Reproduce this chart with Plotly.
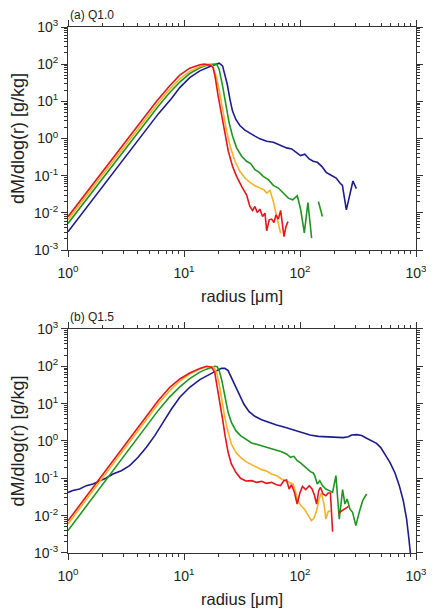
import plotly.graph_objects as go

# ---------------- data: panel (a) Q1.0 ----------------
red_a_r = [1, 1.5, 2, 3, 4, 5, 5.8, 7.5, 9.2, 11.2, 13.7, 15.0, 16.9, 17.8, 18.5, 19.7, 21.1, 22.5, 24.1, 26.2,
           28.4, 31.4, 34.6, 37.0, 39.0, 40.9, 42.8, 45.1, 47.6, 49.9, 51.6, 54.3, 56.9, 59.7, 62.1, 65.0, 68.1,
           72.8, 75.7, 78.8]
red_a_v = [0.0079, 0.0413, 0.133, 0.695, 2.24, 5.56, 10.0, 25.9, 50.5, 78, 96, 100, 94, 81, 48, 13.9, 4.0, 1.28,
           0.455, 0.179, 0.096, 0.0515, 0.0306, 0.0148, 0.0116, 0.0148, 0.0102, 0.0126, 0.0080, 0.0098, 0.0033,
           0.0065, 0.0068, 0.0055, 0.0088, 0.0068, 0.0116, 0.0023, 0.0043, 0.0058]

orange_a_r = [1, 1.5, 2, 3, 4, 5, 6, 7.5, 9.2, 11.2, 13.7, 15.6, 16.5, 17.6, 19.1, 20.4, 21.8, 23.3, 25.2, 27.5,
              30.3, 33.5, 37.0, 40.9, 45.1, 48.9, 51.6, 55.1, 58.9, 62.1, 65.0, 68.1]
orange_a_v = [0.0065, 0.034, 0.109, 0.57, 1.83, 4.55, 9.2, 21, 40, 64, 87, 97, 100, 90, 43.6, 15.5, 4.45, 1.58,
              0.56, 0.244, 0.131, 0.0865, 0.066, 0.0537, 0.0465, 0.0419, 0.034, 0.0402, 0.0202, 0.0098, 0.0053,
              0.0028]

green_a_r = [1, 1.5, 2, 3, 4, 5, 6, 7.5, 9.2, 11.2, 13.7, 15.6, 17.3, 19.1, 20.1, 21.5, 23.0, 24.5, 26.2, 28.4,
             31.4, 34.6, 37.5, 40.9, 44.5, 48.2, 53.3, 58.9, 65.0, 71.8, 79.3, 86.4, 94.8, 101.4, 109, 117, 126,
             None, 144, 156]
green_a_v = [0.0052, 0.0272, 0.088, 0.46, 1.48, 3.68, 7.4, 17, 33, 56, 80, 93, 99, 100, 73, 26, 7.5, 2.65, 1.16,
             0.56, 0.333, 0.244, 0.211, 0.145, 0.123, 0.096, 0.078, 0.0548, 0.0465, 0.034, 0.0249, 0.0224, 0.0288,
             0.0121, 0.0029, 0.019, 0.0021, None, 0.0202, 0.008]

blue_a_r = [1, 1.5, 2, 3, 4, 5, 6, 7.8, 9.2, 11.2, 13.7, 16.7, 19.1, 20.1, 21.5, 22.5, 23.6, 24.9, 26.2, 28.0,
            30.3, 33.5, 37.0, 40.9, 45.1, 51.6, 58.9, 67.2, 76.7, 84.8, 93.6, 101, 110, 120, 130, 141, 154, 168,
            184, 205, 221, 232, 251, 277, 286, 306]
blue_a_v = [0.0031, 0.0163, 0.0525, 0.274, 0.88, 2.19, 4.6, 12, 23.4, 43.6, 66, 86.5, 100, 106, 90, 53.7, 28.8,
            11.3, 5.48, 3.26, 2.24, 1.68, 1.36, 1.16, 0.98, 0.847, 0.796, 0.674, 0.56, 0.526, 0.427, 0.347, 0.378,
            0.282, 0.244, 0.229, 0.179, 0.123, 0.104, 0.0865, 0.0634, 0.055, 0.012, 0.05, 0.072, 0.045]

# ---------------- data: panel (b) Q1.5 ----------------
red_b_r = [1, 1.5, 2, 3, 4, 5, 6, 7.54, 9.2, 11.2, 13.7, 15.6, 17.3, 18.4, 19.3, 20.4, 21.5, 22.6, 24.0, 25.6,
           28.0, 30.7, 34.1, 38.2, 42.2, 46.6, 51.4, 56.8, 62.8, 67.9, 72.6, 76.5, 80.7, 84.5, 89.1, 94.6, 99.7,
           105, 112, 120, 127, 133, 139, 145, 150, 158, 167, 175, 183, 191, None, 215, 238, 262]
red_b_v = [0.0073, 0.039, 0.129, 0.69, 2.28, 5.75, 12.2, 27.4, 45.8, 66, 88, 100, 94, 69, 30.3, 10.9, 3.88, 1.39,
           0.497, 0.242, 0.145, 0.1, 0.085, 0.0866, 0.078, 0.083, 0.0735, 0.078, 0.0676, 0.0637, 0.0866, 0.090,
           0.0518, 0.0676, 0.044, 0.0205, 0.0405, 0.061, 0.0497, 0.0637, 0.0518, 0.0358, 0.0205, 0.0468, 0.0574,
           0.038, 0.0343, 0.0405, 0.0405, 0.0037, None, 0.0118, 0.0145, 0.0178]

orange_b_r = [1, 1.5, 2, 3, 4, 5, 6, 7.5, 9.2, 11.2, 13.7, 15.6, 16.5, 17.3, 18.1, 19.1, 20.1, 21.2, 22.5, 24.0,
              25.6, 28.0, 30.7, 34.1, 38.2, 42.2, 46.6, 51.4, 56.8, 62.8, 69.3, 76.5, 82.8, 87.4, 90.9, 95.9, 102,
              110, 118, 125, 132, 139, 146, 153, 161, 167, 175, 183]
orange_b_v = [0.006, 0.032, 0.106, 0.57, 1.87, 4.7, 10, 22, 40, 62, 85, 97, 100, 99, 94, 69, 33.6, 12, 4.3, 1.71,
              0.83, 0.497, 0.365, 0.279, 0.232, 0.197, 0.171, 0.157, 0.131, 0.118, 0.096, 0.083, 0.075, 0.0705,
              0.0468, 0.0252, 0.0185, 0.0145, 0.01, 0.0073, 0.0085, 0.0136, 0.028, 0.0405, 0.0205, 0.0081, 0.0128,
              0.0136]

green_b_r = [1, 1.5, 2, 3, 4, 5, 6, 7.5, 9.2, 11.2, 13.7, 15.6, 17.3, 18.4, 19.3, 20.1, 21.2, 22.5, 24.0, 25.6,
             28.0, 30.7, 34.1, 38.2, 42.2, 46.6, 51.4, 56.8, 62.8, 69.3, 76.5, 82.8, 88.5, 94.6, 101, 108, 115, 123,
             130, 134, 141, 148, 156, 167, 179, 191, 204, 218, 233, 244, 255, 269, 284, 303, 324, 347, 375]
green_b_v = [0.004, 0.0213, 0.070, 0.377, 1.24, 3.1, 6.6, 15, 28, 47, 70, 84, 95, 100, 98, 76.5, 41.3, 14.8, 5.86,
             3.16, 1.89, 1.39, 1.09, 0.883, 0.815, 0.75, 0.676, 0.61, 0.586, 0.518, 0.449, 0.365, 0.388, 0.297,
             0.258, 0.218, 0.178, 0.151, 0.139, 0.118, 0.0705, 0.0865, 0.0637, 0.0518, 0.0468, 0.042, 0.118,
             0.0081, 0.0497, 0.0205, 0.028, 0.0151, 0.0123, 0.0054, 0.0123, 0.0252, 0.038]

blue_b_r = [1, 1.1, 1.26, 1.44, 1.64, 1.88, 2.14, 2.44, 2.88, 3.4, 4.02, 4.74, 5.6, 6.6, 7.8, 9.2, 11.2, 13.7,
            16.7, 19.1, 21.0, 22.5, 24.0, 25.6, 27.4, 29.9, 32.8, 36.4, 40.8, 46.6, 53.2, 62.8, 74, 87.4, 103, 122,
            144, 169, 200, 236, 261, 279, 308, 340, 375, 414, 457, 495, 540, 596, 659, 718, 777, 830, 869, 899]
blue_b_v = [0.042, 0.047, 0.0518, 0.0637, 0.0705, 0.0865, 0.102, 0.131, 0.160, 0.218, 0.365, 0.676, 1.39, 3.16,
            7.2, 14.8, 27.4, 44, 62.4, 76.5, 88, 88, 76.5, 50.7, 30.3, 18.2, 9.8, 6.1, 4.58, 3.73, 3.16, 2.68,
            2.32, 1.97, 1.64, 1.45, 1.33, 1.28, 1.23, 1.23, 1.3, 1.45, 1.48, 1.4, 1.18, 1.02, 0.866, 0.676, 0.449,
            0.268, 0.139, 0.0637, 0.0252, 0.0081, 0.00237, 0.00085]

# ---------------- tick labels / titles ----------------
x_tickvals = [1, 10, 100, 1000]
x_ticktext = ["10<sup>0</sup>", "10<sup>1</sup>", "10<sup>2</sup>", "10<sup>3</sup>"]
y_tickvals = [0.001, 0.01, 0.1, 1, 10, 100, 1000]
y_ticktext = ["10<sup>-3</sup>", "10<sup>-2</sup>", "10<sup>-1</sup>", "10<sup>0</sup>",
              "10<sup>1</sup>", "10<sup>2</sup>", "10<sup>3</sup>"]
panel_labels = ["(a) Q1.0", "(b) Q1.5"]
x_title = "radius [μm]"
y_title = "dM/dlog(r) [g/kg]"

colors = {"blue": "#1c1c8f", "green": "#1f961f", "orange": "#f6b325", "red": "#e5161c"}

FONT = "Liberation Sans, Arial, Helvetica, sans-serif"
AX = "#333333"
TXT = "#222222"

fig = go.Figure()

panels = [
    ("x", "y", [(blue_a_r, blue_a_v, "blue"), (green_a_r, green_a_v, "green"),
                (orange_a_r, orange_a_v, "orange"), (red_a_r, red_a_v, "red")]),
    ("x2", "y2", [(blue_b_r, blue_b_v, "blue"), (green_b_r, green_b_v, "green"),
                  (orange_b_r, orange_b_v, "orange"), (red_b_r, red_b_v, "red")]),
]
for xa, ya, series in panels:
    for r, v, c in series:
        fig.add_trace(go.Scatter(x=r, y=v, mode="lines", xaxis=xa, yaxis=ya,
                                 line=dict(color=colors[c], width=1.6),
                                 connectgaps=False, showlegend=False, hoverinfo="skip"))

minor_x = [k * 10 ** n for n in range(0, 3) for k in range(2, 10)]
minor_y = [k * 10.0 ** n for n in range(-3, 3) for k in range(2, 10)]


def xaxis(anchor):
    return dict(type="log", range=[0, 3], anchor=anchor, domain=[0, 1],
                showline=True, linecolor=AX, linewidth=1, mirror="allticks",
                ticks="outside", ticklen=6, tickwidth=1, tickcolor=AX,
                tickmode="array", tickvals=x_tickvals, ticktext=x_ticktext,
                ticklabelstandoff=4,
                minor=dict(ticks="outside", ticklen=3, tickwidth=1, tickcolor=AX,
                           tickmode="array", tickvals=minor_x, showgrid=False),
                showgrid=False, zeroline=False,
                tickfont=dict(size=14, color=TXT, family=FONT),
                title=dict(text=x_title, font=dict(size=16.5, color=TXT, family=FONT), standoff=10))


def yaxis(anchor, dom):
    return dict(type="log", range=[-3, 3], anchor=anchor, domain=dom,
                showline=True, linecolor=AX, linewidth=1, mirror="allticks",
                ticks="outside", ticklen=6, tickwidth=1, tickcolor=AX,
                tickmode="array", tickvals=y_tickvals, ticktext=y_ticktext,
                minor=dict(ticks="outside", ticklen=3, tickwidth=1, tickcolor=AX,
                           tickmode="array", tickvals=minor_y, showgrid=False),
                showgrid=False, zeroline=False,
                tickfont=dict(size=14, color=TXT, family=FONT),
                title=dict(text=y_title, font=dict(size=18, color=TXT, family=FONT), standoff=6))


# the page body adds an 8 px offset, so the figure is 8 px smaller and margins shifted
fig.update_layout(
    width=426, height=608,
    margin=dict(l=60, r=18, t=19, b=63, autoexpand=False),
    paper_bgcolor="white", plot_bgcolor="white",
    font=dict(family=FONT, color=TXT),
    xaxis=xaxis("y"), yaxis=yaxis("x", [0.576, 1.0]),
    xaxis2=xaxis("y2"), yaxis2=yaxis("x2", [0.0, 0.4259]),
    annotations=[
        dict(text=panel_labels[0], xref="x domain", yref="y domain", x=0, y=1,
             xanchor="left", yanchor="bottom", yshift=3, showarrow=False,
             font=dict(size=12, color=TXT, family=FONT)),
        dict(text=panel_labels[1], xref="x2 domain", yref="y2 domain", x=0, y=1,
             xanchor="left", yanchor="bottom", yshift=3, showarrow=False,
             font=dict(size=12, color=TXT, family=FONT)),
    ],
)

fig.write_html("out.html")
